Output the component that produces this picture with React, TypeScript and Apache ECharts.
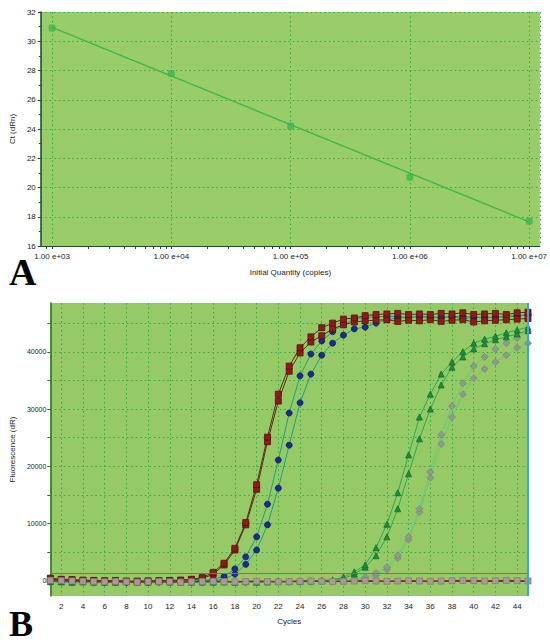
import React, { useEffect, useRef } from "react";
import * as echarts from "echarts";

// ---------- Panel A: standard curve ----------
const quantities = [1e3, 1e4, 1e5, 1e6, 1e7];
const ctValues = [30.9, 27.8, 24.2, 20.7, 17.7];
const fitQuantities = [1e3, 1e7];
const fitCt = [30.95, 17.65];

// ---------- Panel B: amplification curves ----------
const cycles = [
  "1", "2", "3", "4", "5", "6", "7", "8", "9", "10", "11", "12", "13", "14", "15",
  "16", "17", "18", "19", "20", "21", "22", "23", "24", "25", "26", "27", "28", "29", "30",
  "31", "32", "33", "34", "35", "36", "37", "38", "39", "40", "41", "42", "43", "44", "45",
];
const fluorTicks = [0, 10000, 20000, 30000, 40000];

const red1 = [
  500, 300, 250, 150, 100, 50, 100, 0, -50, 0, 50, 100, 150, 300, 600,
  1500, 3100, 5700, 10200, 16800, 25100, 32600, 37500, 40700, 42600, 44200, 45000, 45700, 45900,
  46300, 46500, 46600, 46700, 46500, 46600, 46500, 46700, 46600, 46800, 46500, 46600, 46700, 46500, 46800, 46900,
];
const red2 = [
  300, 200, 150, 100, 50, 0, -50, -100, -50, 0, 0, 50, 100, 200, 400,
  1200, 2800, 5400, 9800, 16000, 24300, 31400, 36600, 39800, 41700, 42800, 44000, 44700, 45200,
  45400, 45500, 45600, 45300, 45500, 45400, 45600, 45300, 45500, 45600, 45200, 45400, 45500, 45600, 45700, 45800,
];
const blue1 = [
  200, 100, 50, 0, -100, -150, -100, -200, -150, -100, -150, -100, -50, 0, 100,
  300, 800, 2100, 4200, 7700, 13400, 21100, 29300, 35800, 39600, 41900, 43500, 44800, 45700,
  46000, 46100, 46200, 46100, 46000, 46200, 46100, 46000, 46100, 46200, 46000, 46100, 46000, 46200, 46300, 46500,
];
const blue2 = [
  100, 50, 0, -50, -100, -200, -150, -200, -150, -200, -100, -150, -100, -50, 0, 100,
  300, 1200, 2900, 5400, 9800, 16200, 23700, 31100, 36100, 39400, 41500, 42900, 44000,
  44300, 45000, 45600, 45900, 46000, 46100, 45900, 46000, 46100, 45800, 46000, 45900, 46000, 46100, 46200, 46400,
];
const green1 = [
  0, -100, -150, -100, -200, -150, -200, -100, -150, -200, -100, -150, -100, -200, -150,
  -100, -150, -200, -100, -150, -100, -50, -100, 0, 50, 100,
  200, 700, 1600, 2800, 5800, 9900, 15400, 22000, 28600, 32600, 36100, 38200, 40000, 41500, 42200, 42700, 43300, 43800, 44300,
];
const green2 = [
  -100, -150, -200, -150, -100, -200, -150, -100, -200, -150, -100, -150, -200, -100, -150,
  -200, -100, -150, -100, -200, -150, -100, -50, -100, 0, 50, 100,
  400, 1200, 2400, 4400, 7700, 12600, 18700, 24800, 30000, 34200, 37300, 39100, 40500, 41400, 42100, 42600, 43100, 43700,
];
const gray1 = [
  -200, -150, -250, -200, -300, -250, -200, -300, -250, -200, -150, -250, -200, -300, -250,
  -200, -150, -200, -250, -200, -150, -100, -150, -200, -100, -50, 0, 100,
  300, 700, 1400, 2400, 4500, 7700, 12600, 19000, 25500, 30500, 34500, 37500, 39100, 40500, 41500, 42400, 43500,
];
const gray2 = [
  -250, -200, -300, -250, -300, -200, -250, -300, -200, -250, -300, -250, -200, -250, -300,
  -200, -250, -200, -300, -250, -200, -150, -200, -250, -150, -100, -50, 0, 100,
  400, 1000, 2000, 4000, 7200, 12000, 18000, 23900, 28600, 32600, 35400, 37000, 38200, 39400, 40700, 41500,
];
const ntc = [
  100, 50, 0, -50, -100, -150, -100, -150, -200, -150, -100, -150, -200, -150, -100,
  -50, -100, -150, -100, -50, -100, -150, -100, -50, 0, -50, -100, -50, 0, 50,
  0, -50, 0, 50, 0, -50, 0, 50, 100, 50, 0, 50, 100, 50, 0,
];
const thresholdValue = 1400;

const FONT = "'Liberation Sans', Arial, sans-serif";
const GRID_DOT = { color: "#33a845", type: [1.5, 3] as number[], width: 1 };

function minorLogTicks(lo: number, hi: number): number[] {
  const out: number[] = [];
  for (let n = Math.floor(lo); n <= Math.ceil(hi); n++) {
    for (let k = 1; k <= 9; k++) {
      const v = Math.log10(k * Math.pow(10, n));
      if (v >= lo && v <= hi) out.push(v);
    }
  }
  return out;
}

export default function App() {
  const ref = useRef<HTMLDivElement>(null);

  useEffect(() => {
    if (!ref.current) return;
    const chart = echarts.init(ref.current, undefined, { renderer: "svg" });
    const logMin = 2.9053;
    const logMax = 7.0906;

    const curve = (
      name: string,
      data: number[],
      symbol: string,
      size: number,
      fill: string,
      border: string,
      line: string
    ) => ({
      name,
      type: "line",
      xAxisIndex: 2,
      yAxisIndex: 1,
      data,
      symbol,
      symbolSize: size,
      showAllSymbol: true,
      itemStyle: { color: fill, borderColor: border, borderWidth: 0.8 },
      lineStyle: { color: line, width: 1 },
    });

    const option: any = {
      animation: false,
      backgroundColor: "#ffffff",
      textStyle: { fontFamily: FONT },
      grid: [
        { left: 39, top: 12, width: 508, height: 234, show: true, backgroundColor: "#99cd69", borderWidth: 0 },
        { left: 46, top: 303, width: 482, height: 293, show: true, backgroundColor: "#96ca67", borderWidth: 0 },
      ],
      xAxis: [
        {
          gridIndex: 0,
          type: "log",
          logBase: 10,
          min: Math.pow(10, logMin),
          max: Math.pow(10, logMax),
          position: "bottom",
          name: "Initial Quantity (copies)",
          nameLocation: "middle",
          nameGap: 22,
          nameTextStyle: { fontSize: 8, color: "#222", fontFamily: FONT },
          axisLine: { show: true, lineStyle: { color: "#1d4a3a", width: 1.2 } },
          axisTick: { show: true, length: 3, lineStyle: { color: "#1d4a3a" } },
          axisLabel: {
            fontSize: 8,
            color: "#222",
            margin: 6,
            showMinLabel: false,
            showMaxLabel: false,
            formatter: (v: number) => {
              const e = Math.round(Math.log10(v));
              return "1.00 e+" + (e < 10 ? "0" + e : String(e));
            },
          },
          splitLine: { show: true, lineStyle: GRID_DOT },
        },
        {
          gridIndex: 0,
          type: "value",
          min: logMin,
          max: logMax,
          position: "bottom",
          axisLine: { show: false },
          axisLabel: { show: false },
          splitLine: { show: false },
          axisTick: {
            show: true,
            length: 3,
            customValues: minorLogTicks(logMin, logMax),
            lineStyle: { color: "#1d4a3a" },
          },
        },
        {
          gridIndex: 1,
          type: "category",
          data: cycles,
          boundaryGap: false,
          position: "bottom",
          name: "Cycles",
          nameLocation: "middle",
          nameGap: 21,
          nameTextStyle: { fontSize: 8, color: "#222", fontFamily: FONT },
          axisLine: { show: true, lineStyle: { color: "#2b5e2b", width: 1 } },
          axisTick: { show: true, interval: 0, length: 3, lineStyle: { color: "#2b5e2b" } },
          axisLabel: {
            fontSize: 8,
            color: "#222",
            margin: 6,
            interval: (i: number) => i % 2 === 1,
          },
          splitLine: { show: true, interval: (i: number) => i % 2 === 1, lineStyle: GRID_DOT },
        },
      ],
      yAxis: [
        {
          gridIndex: 0,
          type: "value",
          min: 16,
          max: 32,
          interval: 2,
          name: "Ct (dRn)",
          nameLocation: "middle",
          nameGap: 22,
          nameTextStyle: { fontSize: 8, color: "#222", fontFamily: FONT },
          axisLine: { show: true, lineStyle: { color: "#1d4a3a", width: 1.5 } },
          axisTick: { show: true, length: 3, lineStyle: { color: "#1d4a3a" } },
          minorTick: { show: true, splitNumber: 2, length: 2, lineStyle: { color: "#1d4a3a" } },
          axisLabel: { fontSize: 8, color: "#222", margin: 5 },
          splitLine: { show: true, lineStyle: GRID_DOT },
        },
        {
          gridIndex: 1,
          type: "value",
          min: -2620,
          max: 48510,
          name: "Fluorescence (dR)",
          nameLocation: "middle",
          nameGap: 31,
          nameTextStyle: { fontSize: 8, color: "#222", fontFamily: FONT },
          axisLine: { show: true, lineStyle: { color: "#2b6a2b", width: 1.5 } },
          axisTick: {
            show: true,
            length: 3,
            customValues: [0, 5000, 10000, 15000, 20000, 25000, 30000, 35000, 40000, 45000],
            lineStyle: { color: "#2b6a2b" },
          },
          axisLabel: {
            fontSize: 7,
            color: "#222",
            margin: 4,
            customValues: fluorTicks,
            formatter: (v: number) => String(v),
          },
          splitLine: { show: true, lineStyle: GRID_DOT },
        },
      ],
      series: [
        {
          name: "Fit",
          type: "line",
          xAxisIndex: 0,
          yAxisIndex: 0,
          data: fitQuantities.map((q, i) => [q, fitCt[i]]),
          showSymbol: false,
          symbol: "none",
          lineStyle: { color: "#3db54c", width: 1.3 },
        },
        {
          name: "Standards",
          type: "scatter",
          xAxisIndex: 0,
          yAxisIndex: 0,
          data: quantities.map((q, i) => [q, ctValues[i]]),
          symbol: "roundRect",
          symbolSize: 7,
          itemStyle: { color: "#3fb64e" },
        },
        curve("Sample 1a", gray2, "diamond", 7, "#8c9c8c", "#7a887a", "#6cc877"),
        curve("Sample 1b", gray1, "diamond", 7, "#8c9c8c", "#7a887a", "#6cc877"),
        curve("Sample 2a", green2, "triangle", 6, "#1e8c3c", "#176b2e", "#25ad4c"),
        curve("Sample 2b", green1, "triangle", 6, "#1e8c3c", "#176b2e", "#25ad4c"),
        curve("Sample 3a", blue2, "circle", 6, "#1c2b8e", "#101a60", "#17a37f"),
        curve("Sample 3b", blue1, "circle", 6, "#1c2b8e", "#101a60", "#17a37f"),
        curve("Sample 4a", red2, "rect", 6, "#8e1b1b", "#5a0f0f", "#5b2a1a"),
        curve("Sample 4b", red1, "rect", 6, "#8e1b1b", "#5a0f0f", "#5b2a1a"),
        {
          ...curve("NTC", ntc, "rect", 6, "#a89a9a", "#8a7a7a", "#a01c1c"),
          lineStyle: { color: "#a01c1c", width: 1.5 },
          markLine: {
            silent: true,
            symbol: "none",
            label: { show: false },
            data: [
              { yAxis: thresholdValue, lineStyle: { color: "#3a9e3a", width: 1, type: "solid" } },
              { xAxis: "45", lineStyle: { color: "#3fa3d6", width: 2, type: "solid" } },
            ],
          },
        },
      ],
      graphic: [
        {
          type: "text",
          left: 9,
          top: 253,
          style: { text: "A", fontSize: 38, fontWeight: "bold", fontFamily: "'Liberation Serif', 'DejaVu Serif', serif", fill: "#000" },
        },
        {
          type: "text",
          left: 9,
          top: 606,
          style: { text: "B", fontSize: 36, fontWeight: "bold", fontFamily: "'Liberation Serif', 'DejaVu Serif', serif", fill: "#000" },
        },
      ],
    };

    chart.setOption(option);
    return () => chart.dispose();
  }, []);

  return (
    <div
      ref={ref}
      style={{ position: "absolute", left: 0, top: 0, width: 550, height: 644, background: "#fff" }}
    />
  );
}
